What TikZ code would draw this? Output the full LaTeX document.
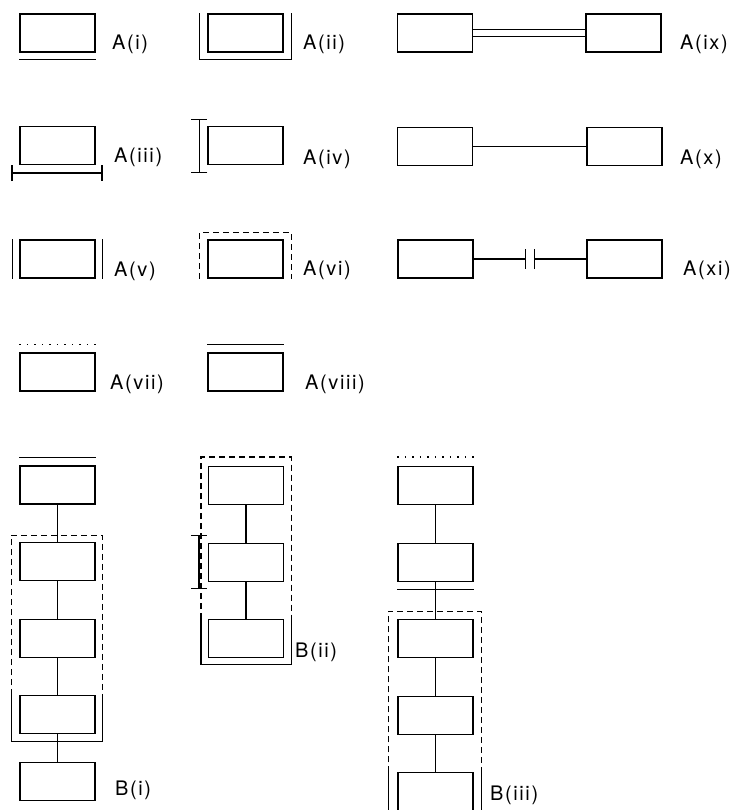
\documentclass[tikz,border=0pt]{standalone}
\usepackage{fontspec}
\newfontfamily\lblfont[LetterSpace=8]{TeX Gyre Heros}
\usetikzlibrary{arrows.meta,positioning}
\tikzset{
  blk/.style={draw,line width=1.1pt,minimum width=75pt,minimum height=38pt,inner sep=0pt},
  lnk/.style={line width=1.1pt},
  dsh/.style={lnk,dash pattern=on 6pt off 4pt},
  dts/.style={lnk,dash pattern=on 1.3pt off 6.2pt},
  dimbar/.style={lnk,{Bar[width=16pt]}-{Bar[width=16pt]}},
  lbl/.style={anchor=west,inner sep=0pt,font=\lblfont\fontsize{20pt}{20pt}\selectfont}
}
\begin{document}
\begin{tikzpicture}[x=1pt,y=-1pt,node distance=37.5pt]
  \useasboundingbox (0,0) rectangle (735,810);
  \node[blk] (ai) at (57.5,33) {};
  \node[blk] (aii) at (245.5,33) {};
  \node[blk] (ixl) at (435,33) {};
  \node[blk] (ixr) at (623.5,33) {};
  \node[blk] (aiii) at (57.5,145.5) {};
  \node[blk] (aiv) at (245.5,145.5) {};
  \node[blk] (xl) at (435,146.5) {};
  \node[blk] (xr) at (624.5,146.5) {};
  \node[blk] (av) at (57.5,259) {};
  \node[blk] (avi) at (245.5,259) {};
  \node[blk] (xil) at (435.5,259) {};
  \node[blk] (xir) at (624.5,259) {};
  \node[blk] (avii) at (57.5,372) {};
  \node[blk] (aviii) at (245.5,372) {};
  \coordinate (cp1) at (526,259);
  \coordinate (cp2) at (534,259);
  \node[lbl] (li) at (112,44) {A(i)};
  \node[lbl] (lii) at (303,44) {A(ii)};
  \node[lbl] (lix) at (680,44) {A(ix)};
  \node[lbl] (liii) at (114,157) {A(iii)};
  \node[lbl] (liv) at (303,159) {A(iv)};
  \node[lbl] (lx) at (680,159) {A(x)};
  \node[lbl] (lv) at (114,271) {A(v)};
  \node[lbl] (lvi) at (303,270) {A(vi)};
  \node[lbl] (lxi) at (683,270) {A(xi)};
  \node[lbl] (lvii) at (110,384) {A(vii)};
  \node[lbl] (lviii) at (305,384) {A(viii)};
  \draw[lnk] ([yshift=-7pt]ai.south west) -- ([yshift=-7pt]ai.south east);
  \draw[lnk] ([xshift=-8pt]aii.north west) |- ([shift={(8pt,-7pt)}]aii.south east) -- ([xshift=8pt]aii.north east);
  \draw[lnk,double,double distance=6pt] (ixl) -- (ixr);
  \draw[dimbar] ([shift={(-8pt,-8pt)}]aiii.south west) -- ([shift={(7pt,-8pt)}]aiii.south east);
  \draw[dimbar] ([shift={(-8pt,7pt)}]aiv.north west) -- ([shift={(-8pt,-8pt)}]aiv.south west);
  \draw[lnk] (xl) -- (xr);
  \draw[lnk] ([xshift=-7pt]av.north west) -- ([xshift=-7pt]av.south west);
  \draw[lnk] ([xshift=7pt]av.north east) -- ([xshift=7pt]av.south east);
  \draw[dsh] ([xshift=-8pt]avi.south west) |- ([shift={(8pt,7pt)}]avi.north east) -- ([xshift=8pt]avi.south east);
  \draw[lnk,-{Bar[width=20pt]}] (xil) -- (cp1);
  \draw[lnk,{Bar[width=20pt]}-] (cp2) -- (xir);
  \draw[dts] ([yshift=8pt]avii.north west) -- ([yshift=8pt]avii.north east);
  \draw[lnk] ([yshift=8pt]aviii.north west) -- ([yshift=8pt]aviii.north east);

  \node[blk] (b1) at (57.5,485) {};
  \node[blk,below=of b1] (b2) {};
  \node[blk,below=of b2] (b3) {};
  \node[blk,below=of b3] (b4) {};
  \node[blk,below=28pt of b4] (b5) {};
  \node[lbl] (lbi) at (115,790) {B(i)};
  \draw[lnk] (b1) -- (b2);
  \draw[lnk] (b2) -- (b3);
  \draw[lnk] (b3) -- (b4);
  \draw[lnk] (b4) -- (b5);
  \draw[lnk] ([yshift=8pt]b1.north west) -- ([yshift=8pt]b1.north east);
  \draw[dsh] ([xshift=-8pt]b4.north west) |- ([shift={(7pt,7pt)}]b2.north east) -- ([xshift=7pt]b4.north east);
  \draw[lnk] ([xshift=-8pt]b4.north west) |- ([shift={(7pt,-7pt)}]b4.south east) -- ([xshift=7pt]b4.north east);

  \node[blk] (p1) at (246,485.5) {};
  \node[blk,below=of p1] (p2) {};
  \node[blk,below=of p2] (p3) {};
  \node[lbl] (lbii) at (295,652) {B(ii)};
  \draw[lnk] (p1) -- (p2);
  \draw[lnk] (p2) -- (p3);
  \draw[dsh] ([xshift=-7pt]p3.north west) |- ([shift={(7pt,9pt)}]p1.north east) -- ([xshift=7pt]p3.north east);
  \draw[lnk] ([xshift=-7pt]p3.north west) |- ([shift={(7pt,-6pt)}]p3.south east) -- ([xshift=7pt]p3.north east);
  \draw[dimbar] ([shift={(-9pt,8pt)}]p2.north west) -- ([shift={(-9pt,-7pt)}]p2.south west);

  \node[blk] (q1) at (435.5,485.5) {};
  \node[blk,below=of q1] (q2) {};
  \node[blk,below=of q2] (q3) {};
  \node[blk,below=of q3] (q4) {};
  \node[blk,below=of q4] (q5) {};
  \node[lbl] (lbiii) at (490,795) {B(iii)};
  \draw[lnk] (q1) -- (q2);
  \draw[lnk] (q2) -- (q3);
  \draw[lnk] (q3) -- (q4);
  \draw[lnk] (q4) -- (q5);
  \draw[dts] ([yshift=9pt]q1.north west) -- ([yshift=9pt]q1.north east);
  \draw[lnk] ([yshift=-8pt]q2.south west) -- ([yshift=-8pt]q2.south east);
  \draw[dsh] ([xshift=-9pt]q5.north west) |- ([shift={(8pt,8pt)}]q3.north east) -- ([xshift=8pt]q5.north east);
  \draw[lnk] ([xshift=-9pt]q5.north west) -- ([shift={(-9pt,-3pt)}]q5.south west);
  \draw[lnk] ([xshift=8pt]q5.north east) -- ([shift={(8pt,-3pt)}]q5.south east);
\end{tikzpicture}
\end{document}
